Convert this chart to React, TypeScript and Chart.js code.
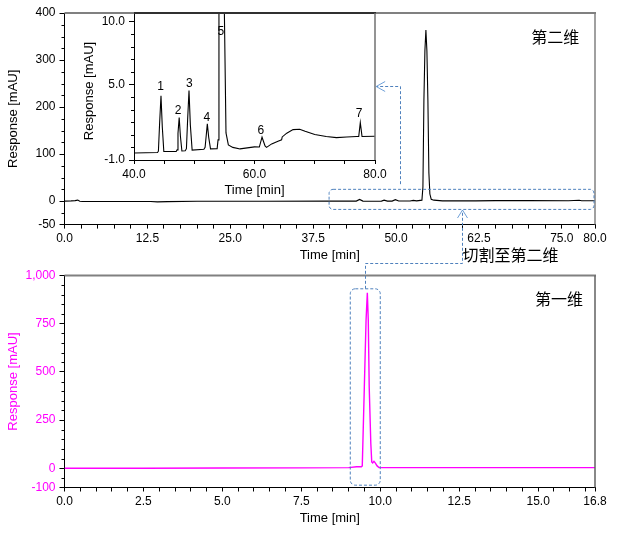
import React, { useEffect, useRef } from "react";
import { Chart, registerables } from "chart.js";

Chart.register(...registerables);

const FONT = '"Liberation Sans", Arial, sans-serif';
const CJK = '"Noto Sans CJK SC", sans-serif';

// Second dimension: full run
const mainTimes = [0, 1, 1.6, 2, 2.3, 2.7, 8, 13, 14, 15.5, 20, 30, 40, 44, 44.5, 45, 46, 47.8, 48.2, 48.7, 49.4, 49.9, 50.4, 52.1, 52.6, 53.1, 53.9, 54.05, 54.2, 54.35, 54.5, 54.65, 54.8, 54.95, 55.1, 55.3, 55.7, 57, 62, 65, 70, 76, 77.6, 78, 80];
const mainValues = [0, 0.5, 1, 2, -0.5, -1, -0.8, -1, -1.6, -1.2, -0.5, -0.3, 0, 0, 3.5, 0, -0.2, 0, 2, 0, 0, 3, 0.3, 0.3, 1.5, 0.5, 2, 30, 215, 320, 364, 320, 215, 60, 15, 4, 2, 0.5, 0.5, 1, 1, 0.8, 1.8, 0.8, 0.8];

// Inset: 40 to 80 min enlarged
const insetTimes = [40, 43.9, 44.05, 44.25, 44.48, 44.7, 44.95, 47, 47.15, 47.3, 47.5, 47.7, 47.95, 48.5, 48.7, 48.9, 49.13, 49.35, 49.65, 51.6, 51.8, 52, 52.17, 52.4, 52.7, 53.8, 53.95, 54.1, 54.5, 55, 55.27, 55.66, 56.4, 57.6, 60, 60.8, 61.25, 61.75, 62, 62.85, 63.9, 64.5, 64.6, 65.35, 66.4, 67.5, 68.4, 70, 71.9, 73.6, 75.3, 76.95, 77.3, 77.56, 77.85, 80];
const insetValues = [-0.44, -0.41, -0.3, 1.9, 4.09, 1.6, -0.32, -0.32, -0.2, 1.1, 2.37, 0.9, -0.28, -0.26, -0.1, 2.2, 4.51, 1.8, -0.21, -0.15, 0, 1, 1.87, 0.8, -0.12, -0.1, 0.6, 10.7, 364, 10.7, 1.15, 0.2, 0, -0.12, 0.04, 0.03, 0.81, 0.12, 0, 0.28, 0.49, 0.6, 0.83, 1.13, 1.41, 1.44, 1.28, 1.03, 0.86, 0.78, 0.83, 0.86, 0.87, 1.97, 0.87, 0.89];

const peakNames = ["1", "2", "3", "4", "5", "6", "7"];
const peakNameTimes = [44.4, 47.3, 49.2, 52.1, 54.4, 61.05, 77.35];
const peakNameValues = [4.8, 2.95, 5.05, 2.35, 9.17, 1.3, 2.7];

// First dimension
const firstTimes = [0, 2.5, 5, 7.5, 9, 9.25, 9.4, 9.43, 9.495, 9.55, 9.59, 9.62, 9.65, 9.7, 9.73, 9.76, 9.8, 9.84, 9.9, 9.96, 10.2, 11.8, 14, 16.8];
const firstValues = [0, 0, 1, 2, 3, 8, 8, 12, 420, 769, 910, 769, 420, 130, 33, 28, 36, 28, 12, 4, 3, 3, 3, 3];

const mainXTicks = [0, 2.5, 5, 7.5, 10, 12.5, 15, 17.5, 20, 22.5, 25, 27.5, 30, 32.5, 35, 37.5, 40, 42.5, 45, 47.5, 50, 52.5, 55, 57.5, 60, 62.5, 65, 67.5, 70, 72.5, 75, 77.5, 80];
const mainXLabels = [0, 12.5, 25, 37.5, 50, 62.5, 75, 80];
const mainYLabels = [-50, 0, 100, 200, 300, 400];
const mainYMinor = [-25, 25, 50, 75, 125, 150, 175, 225, 250, 275, 325, 350, 375];

const insetXTicks = [40, 45, 50, 55, 60, 65, 70, 75, 80];
const insetXLabels = [40, 60, 80];
const insetYLabels = [-1, 5, 10];
const insetYMinor = [0, 1, 2, 3, 4, 6, 7, 8, 9];

const firstXTicks = [0, 0.5, 1, 1.5, 2, 2.5, 3, 3.5, 4, 4.5, 5, 5.5, 6, 6.5, 7, 7.5, 8, 8.5, 9, 9.5, 10, 10.5, 11, 11.5, 12, 12.5, 13, 13.5, 14, 14.5, 15, 15.5, 16, 16.5, 16.8];
const firstXLabels = [0, 2.5, 5, 7.5, 10, 12.5, 15, 16.8];
const firstYLabels = [-100, 0, 250, 500, 750, 1000];
const firstYMinor = [-50, 50, 100, 150, 200, 300, 350, 400, 450, 550, 600, 650, 700, 800, 850, 900, 950];

const W = 617;
const H = 534;
const DASH = "#4f81bd";
const ARROW = "#6fa0d8";

type Panel = {
  left: number; right: number; top: number; bottom: number;
  yAxisW: number; xAxisH: number;
  times: number[]; values: number[]; line: string; lineWidth: number;
  xMin: number; xMax: number; yMin: number; yMax: number;
  xTicks: number[]; xLabels: number[]; yLabels: number[]; yMinor: number[];
  yFmt: (v: number) => string; yColor: string; extra?: any[];
  topColor: string; rightColor: string; tickPad: number; nativeYTitle: boolean;
};

function makeChart(canvas: HTMLCanvasElement, p: Panel) {
  const framePlugin = {
    id: "frame",
    afterDraw(chart: any) {
      const { ctx, chartArea: a, scales } = chart;
      ctx.save();
      ctx.strokeStyle = p.topColor;
      ctx.lineWidth = 2;
      ctx.beginPath();
      ctx.moveTo(a.left, a.top);
      ctx.lineTo(a.right + 1, a.top);
      ctx.stroke();
      ctx.strokeStyle = p.rightColor;
      ctx.lineWidth = 1.5;
      ctx.beginPath();
      ctx.moveTo(a.right, a.top);
      ctx.lineTo(a.right, a.bottom);
      ctx.stroke();
      ctx.strokeStyle = "#000";
      ctx.lineWidth = 1;
      ctx.beginPath();
      for (const v of p.yMinor) {
        const y = Math.round(scales.y.getPixelForValue(v)) + 0.5;
        ctx.moveTo(a.left - 3, y);
        ctx.lineTo(a.left, y);
      }
      ctx.stroke();
      ctx.restore();
    },
  };
  return new Chart(canvas, {
    type: "line",
    data: {
      datasets: [{
        data: p.times.map((t, i) => ({ x: t, y: p.values[i] })),
        borderColor: p.line,
        borderWidth: p.lineWidth,
        pointRadius: 0,
        tension: 0,
      }],
    },
    plugins: [framePlugin, ...(p.extra || [])],
    options: {
      responsive: false,
      animation: false,
      devicePixelRatio: 1,
      parsing: false,
      normalized: true,
      events: [],
      layout: {
        autoPadding: false,
        padding: {
          left: p.left - p.yAxisW,
          right: W - p.right,
          top: p.top,
          bottom: H - p.bottom - p.xAxisH,
        },
      },
      plugins: { legend: { display: false }, tooltip: { enabled: false }, title: { display: false } },
      scales: {
        x: {
          type: "linear",
          min: p.xMin,
          max: p.xMax,
          afterBuildTicks: (s: any) => { s.ticks = p.xTicks.map((value) => ({ value })); },
          afterFit: (s: any) => { s.height = p.xAxisH; },
          grid: { drawOnChartArea: false, drawTicks: true, tickLength: 4, color: "#000" },
          border: { color: "#000", width: 1 },
          ticks: {
            autoSkip: false,
            maxRotation: 0,
            padding: p.tickPad,
            color: "#000",
            font: { family: FONT, size: 12 },
            callback: (v: any) => (p.xLabels.includes(Number(v)) ? Number(v).toFixed(1) : ""),
          },
          title: {
            display: true,
            text: "Time [min]",
            color: "#000",
            font: { family: FONT, size: 13 },
            padding: 0,
          },
        },
        y: {
          type: "linear",
          min: p.yMin,
          max: p.yMax,
          afterBuildTicks: (s: any) => { s.ticks = p.yLabels.map((value) => ({ value })); },
          afterFit: (s: any) => { s.width = p.yAxisW; },
          grid: { drawOnChartArea: false, drawTicks: true, tickLength: 5, color: "#000" },
          border: { color: "#000", width: 1 },
          ticks: {
            autoSkip: false,
            padding: 4,
            color: p.yColor,
            font: { family: FONT, size: 12 },
            callback: (v: any) => p.yFmt(Number(v)),
          },
          title: {
            display: p.nativeYTitle,
            text: "Response [mAU]",
            color: p.yColor,
            font: { family: FONT, size: 13 },
            padding: 0,
          },
        },
      },
    } as any,
  } as any);
}

function roundedBox(ctx: CanvasRenderingContext2D, x0: number, y0: number, x1: number, y1: number, r: number) {
  ctx.beginPath();
  ctx.roundRect(x0, y0, x1 - x0, y1 - y0, r);
  ctx.stroke();
}

export default function App() {
  const mainRef = useRef<HTMLCanvasElement>(null);
  const insetRef = useRef<HTMLCanvasElement>(null);
  const firstRef = useRef<HTMLCanvasElement>(null);

  useEffect(() => {
    const main: any = makeChart(mainRef.current!, {
      left: 64.5, right: 595, top: 13, bottom: 224.6, yAxisW: 59, xAxisH: 39,
      times: mainTimes, values: mainValues, line: "#000", lineWidth: 1.1,
      xMin: 0, xMax: 80, yMin: -50, yMax: 400,
      xTicks: mainXTicks, xLabels: mainXLabels, yLabels: mainYLabels, yMinor: mainYMinor,
      yFmt: (v) => String(v), yColor: "#000",
      topColor: "#808080", rightColor: "#808080", tickPad: 3, nativeYTitle: true,
    });

    const insetText = {
      id: "insetText",
      afterDatasetsDraw(chart: any) {
        const { ctx, scales } = chart;
        ctx.save();
        ctx.fillStyle = "#000";
        ctx.font = `12px ${FONT}`;
        ctx.textAlign = "center";
        ctx.textBaseline = "middle";
        peakNames.forEach((n, i) => {
          ctx.fillText(n, scales.x.getPixelForValue(peakNameTimes[i]), scales.y.getPixelForValue(peakNameValues[i]));
        });
        ctx.font = `13px ${FONT}`;
        ctx.translate(89, 91);
        ctx.rotate(-Math.PI / 2);
        ctx.fillText("Response [mAU]", 0, 0);
        ctx.restore();
      },
    };

    const inset: any = makeChart(insetRef.current!, {
      left: 134, right: 375, top: 13, bottom: 160, yAxisW: 53, xAxisH: 38,
      times: insetTimes, values: insetValues, line: "#000", lineWidth: 1.1,
      xMin: 40, xMax: 80, yMin: -1, yMax: 10.67,
      xTicks: insetXTicks, xLabels: insetXLabels, yLabels: insetYLabels, yMinor: insetYMinor,
      yFmt: (v) => v.toFixed(1), yColor: "#000", extra: [insetText],
      topColor: "#303030", rightColor: "#707070", tickPad: 3, nativeYTitle: false,
    });

    const overlay = {
      id: "overlay",
      afterDraw(chart: any) {
        const { ctx, scales } = chart;
        const mx = main.scales.x;
        const my = main.scales.y;
        const fx = scales.x;
        const fy = scales.y;
        ctx.save();
        ctx.lineWidth = 1;
        ctx.strokeStyle = DASH;
        ctx.setLineDash([3, 2]);
        roundedBox(ctx, mx.getPixelForValue(39.9), my.getPixelForValue(25), mx.getPixelForValue(79.85), my.getPixelForValue(-17.7), 4);
        roundedBox(ctx, fx.getPixelForValue(9.05), fy.getPixelForValue(931), fx.getPixelForValue(10), fy.getPixelForValue(-88), 5);

        // first dimension box up to the cut window
        const cutX = Math.round(mx.getPixelForValue(60)) + 0.5;
        const startX = Math.round(fx.getPixelForValue(9.51)) + 0.5;
        const topY = fy.getPixelForValue(931);
        const midY = 263.5;
        const tipY = my.getPixelForValue(-19);
        ctx.beginPath();
        ctx.moveTo(startX, topY);
        ctx.lineTo(startX, midY);
        ctx.lineTo(cutX, midY);
        ctx.lineTo(cutX, tipY);
        ctx.stroke();

        // cut window up to the inset
        const upX = Math.round(mx.getPixelForValue(50.66)) + 0.5;
        const arrowY = Math.round(my.getPixelForValue(244)) + 0.5;
        const tipX = mx.getPixelForValue(47);
        ctx.beginPath();
        ctx.moveTo(upX, my.getPixelForValue(36));
        ctx.lineTo(upX, arrowY);
        ctx.lineTo(tipX, arrowY);
        ctx.stroke();

        ctx.setLineDash([]);
        ctx.strokeStyle = ARROW;
        ctx.beginPath();
        ctx.moveTo(cutX - 5, tipY + 8);
        ctx.lineTo(cutX, tipY);
        ctx.lineTo(cutX + 5, tipY + 8);
        ctx.moveTo(tipX + 9, arrowY - 5);
        ctx.lineTo(tipX, arrowY);
        ctx.lineTo(tipX + 9, arrowY + 5);
        ctx.stroke();

        ctx.fillStyle = "#000";
        ctx.font = `16px ${CJK}`;
        ctx.textBaseline = "middle";
        ctx.textAlign = "left";
        ctx.fillText("第二维", mx.getPixelForValue(70.4), my.getPixelForValue(350));
        ctx.fillText("第一维", fx.getPixelForValue(14.9), fy.getPixelForValue(880));
        ctx.fillText("切割至第二维", cutX, 255);
        ctx.restore();
      },
    };

    const first: any = makeChart(firstRef.current!, {
      left: 64.5, right: 595, top: 275.5, bottom: 487.5, yAxisW: 59, xAxisH: 39,
      times: firstTimes, values: firstValues, line: "#ff00ff", lineWidth: 1.4,
      xMin: 0, xMax: 16.8, yMin: -100, yMax: 1000,
      xTicks: firstXTicks, xLabels: firstXLabels, yLabels: firstYLabels, yMinor: firstYMinor,
      yFmt: (v) => v.toLocaleString("en-US"), yColor: "#ff00ff", extra: [overlay],
      topColor: "#808080", rightColor: "#606060", tickPad: 3, nativeYTitle: true,
    });

    return () => {
      first.destroy();
      inset.destroy();
      main.destroy();
    };
  }, []);

  const style: React.CSSProperties = { position: "absolute", left: 0, top: 0, width: W, height: H };
  return (
    <div style={{ position: "fixed", left: 0, top: 0, width: W, height: H, background: "#fff" }}>
      <canvas ref={mainRef} width={W} height={H} style={style} />
      <canvas ref={insetRef} width={W} height={H} style={style} />
      <canvas ref={firstRef} width={W} height={H} style={style} />
    </div>
  );
}
